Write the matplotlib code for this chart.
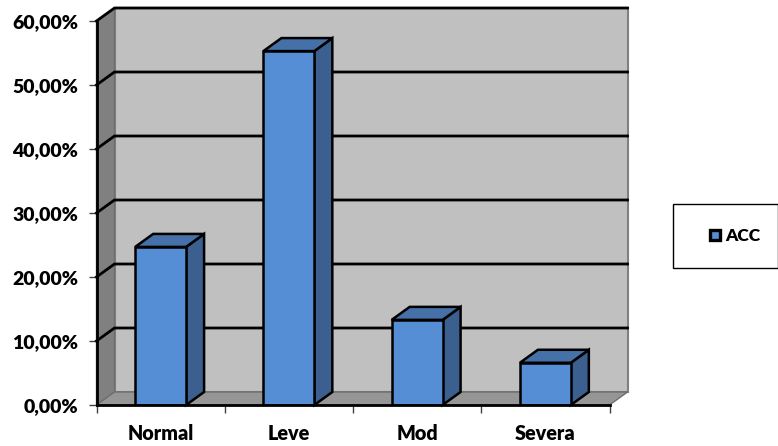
import matplotlib
matplotlib.use("Agg")
import matplotlib.pyplot as plt
from matplotlib.patches import Polygon, Rectangle, Patch
from matplotlib.ticker import FuncFormatter

categories = ["Normal", "Leve", "Mod", "Severa"]
acc_values = [24.7, 55.3, 13.3, 6.6]
y_ticks = [0, 10, 20, 30, 40, 50, 60]

W, H = 778, 446
# front plane of the 3D box in pixels
LEFT, RIGHT, BOTTOM, TOP = 96.5, 609.5, 405, 21

plt.rcParams["font.family"] = ["Lato", "DejaVu Sans"]

fig = plt.figure(figsize=(W / 100, H / 100), dpi=100)
ax = fig.add_axes([LEFT / W, 1 - BOTTOM / H, (RIGHT - LEFT) / W, (BOTTOM - TOP) / H])
ax.set_xlim(0, len(categories))
ax.set_ylim(0, 60)

# depth of the box in data units
dx = 18 / ((RIGHT - LEFT) / len(categories))
dy = 13 / ((BOTTOM - TOP) / 60)
xmax = len(categories)
ymax = 60


def poly(pts, face, edge="none", lw=0, z=1):
    ax.add_patch(Polygon(pts, closed=True, facecolor=face, edgecolor=edge,
                         linewidth=lw, zorder=z, clip_on=False, joinstyle="miter"))


# walls and floor
poly([(dx, dy), (xmax + dx, dy), (xmax + dx, ymax + dy), (dx, ymax + dy)], "#c0c0c0", "#808080", 1.5)
poly([(0, 0), (dx, dy), (dx, ymax + dy), (0, ymax)], "#808080", "#6e6e6e", 1)
poly([(0, 0), (xmax, 0), (xmax + dx, dy), (dx, dy)], "#969696", "#6e6e6e", 1)

# gridlines run along the side wall and the back wall
for v in y_ticks[1:]:
    ax.plot([0, dx, xmax + dx], [v, v + dy, v + dy], color="black", lw=2,
            zorder=2, clip_on=False, solid_joinstyle="miter")

# bars
bar_w = 0.397
for i, val in enumerate(acc_values):
    x0 = i + 0.5 - bar_w / 2
    x1 = x0 + bar_w
    poly([(x1, 0), (x1 + dx, dy), (x1 + dx, val + dy), (x1, val)], "#3b5f8e", "black", 1.8, 4)
    poly([(x0, val), (x1, val), (x1 + dx, val + dy), (x0 + dx, val + dy)], "#4571a8", "black", 1.8, 4)
    ax.bar(i + 0.5, val, width=bar_w, color="#558ed5", edgecolor="black", linewidth=1.8, zorder=5)

# axes: only the left and bottom lines of the front plane
for s in ["top", "right"]:
    ax.spines[s].set_visible(False)
for s in ["left", "bottom"]:
    ax.spines[s].set_linewidth(2)
    ax.spines[s].set_zorder(6)

ax.set_yticks(y_ticks)
ax.yaxis.set_major_formatter(FuncFormatter(lambda v, _: f"{v:.2f}%".replace(".", ",")))
ax.set_xticks(range(len(categories) + 1))
ax.set_xticklabels([])
ax.set_xticks([i + 0.5 for i in range(len(categories))], categories, minor=True)
ax.tick_params(axis="y", length=6, width=1, color="#404040", labelsize=14, pad=7)
ax.tick_params(axis="x", which="major", length=6, width=1, color="#404040")
ax.tick_params(axis="x", which="minor", length=0, labelsize=14.2, pad=14)
for lab in ax.get_yticklabels() + ax.get_xticklabels(minor=True):
    lab.set_fontweight("heavy")

# legend box
fig.add_artist(Rectangle((672.5 / W, 1 - 268 / H), 106 / W, 64 / H, transform=fig.transFigure,
                         facecolor="white", edgecolor="black", linewidth=1))
fig.legend(handles=[Patch(facecolor="#558ed5", edgecolor="black", linewidth=2.4, label="ACC")],
           loc="center", bbox_to_anchor=(735 / W, 1 - 236 / H), frameon=False,
           prop={"size": 12.5, "weight": "heavy"},
           handlelength=0.55, handleheight=0.55, handletextpad=0.3)

fig.savefig("out.png", dpi=100)
